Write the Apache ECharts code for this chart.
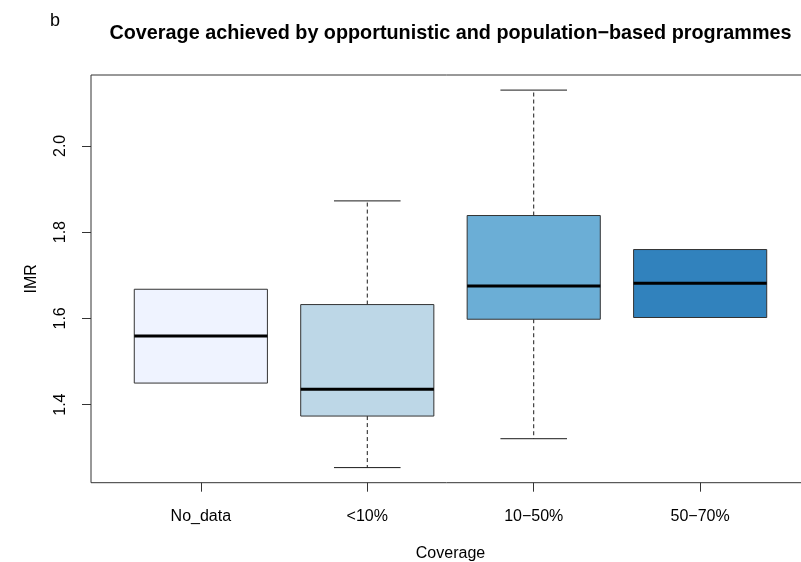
<!DOCTYPE html>
<html>
<head>
<meta charset="utf-8">
<script src="https://cdn.jsdelivr.net/npm/echarts@6/dist/echarts.min.js"></script>
<style>
  html, body { margin: 0; padding: 0; background: #fff; }
  #chart { width: 801px; height: 562px; }
</style>
</head>
<body>
<div id="chart"></div>
<script>
// Coverage groups and their IMR five-number summaries
const categories = ['No_data', '<10%', '10\u221250%', '50\u221270%'];
const whiskerLow = [1.450, 1.254, 1.321, 1.602];
const lowerQuartile = [1.450, 1.3735, 1.598, 1.602];
const medians = [1.559, 1.4355, 1.675, 1.6815];
const upperQuartile = [1.6675, 1.632, 1.8385, 1.7596];
const whiskerHigh = [1.6675, 1.8724, 2.1293, 1.7596];
const boxColors = ['#EFF3FF', '#BDD7E7', '#6BAED6', '#3182BD'];
const yTicks = [1.4, 1.6, 1.8, 2.0];
const xTicks = [1, 2, 3, 4];

const FONT = '"Liberation Sans", Arial, Helvetica, sans-serif';

// data rows: [position, low, q1, median, q3, high]
const rows = categories.map((c, i) => [i + 1, whiskerLow[i], lowerQuartile[i], medians[i], upperQuartile[i], whiskerHigh[i]]);

// R-style axis padding: data range extended by 4% on each side
const allVals = whiskerLow.concat(whiskerHigh);
const yMinData = Math.min(...allVals), yMaxData = Math.max(...allVals);
const yPad = (yMaxData - yMinData) * 0.04;
const xPad = (4.5 - 0.5) * 0.04;

const chart = echarts.init(document.getElementById('chart'), null, { renderer: 'canvas' });

function renderBox(params, api) {
  const x = api.value(0);
  const lo = api.value(1), q1 = api.value(2), med = api.value(3), q3 = api.value(4), hi = api.value(5);
  const halfBox = 0.4, halfCap = 0.2;
  const pLeftQ3 = api.coord([x - halfBox, q3]);
  const pRightQ1 = api.coord([x + halfBox, q1]);
  const pMedL = api.coord([x - halfBox, med]);
  const pMedR = api.coord([x + halfBox, med]);
  const pLo = api.coord([x, lo]);
  const pHi = api.coord([x, hi]);
  const pQ1 = api.coord([x, q1]);
  const pQ3 = api.coord([x, q3]);
  const capLoL = api.coord([x - halfCap, lo]);
  const capLoR = api.coord([x + halfCap, lo]);
  const capHiL = api.coord([x - halfCap, hi]);
  const capHiR = api.coord([x + halfCap, hi]);
  const children = [];
  const dashStyle = { stroke: '#1a1a1a', lineWidth: 1, lineDash: [4, 3] };
  const capStyle = { stroke: '#1a1a1a', lineWidth: 1 };
  if (hi > q3) {
    children.push({ type: 'line', shape: { x1: pQ3[0], y1: pQ3[1], x2: pHi[0], y2: pHi[1] }, style: dashStyle });
    children.push({ type: 'line', shape: { x1: capHiL[0], y1: capHiL[1], x2: capHiR[0], y2: capHiR[1] }, style: capStyle });
  }
  if (lo < q1) {
    children.push({ type: 'line', shape: { x1: pQ1[0], y1: pQ1[1], x2: pLo[0], y2: pLo[1] }, style: dashStyle });
    children.push({ type: 'line', shape: { x1: capLoL[0], y1: capLoL[1], x2: capLoR[0], y2: capLoR[1] }, style: capStyle });
  }
  children.push({
    type: 'rect',
    shape: { x: pLeftQ3[0], y: pLeftQ3[1], width: pRightQ1[0] - pLeftQ3[0], height: pRightQ1[1] - pLeftQ3[1] },
    style: { fill: boxColors[params.dataIndex], stroke: '#333333', lineWidth: 1 }
  });
  children.push({
    type: 'line',
    shape: { x1: pMedL[0], y1: pMedL[1], x2: pMedR[0], y2: pMedR[1] },
    style: { stroke: '#000000', lineWidth: 3 }
  });
  return { type: 'group', children: children };
}

chart.setOption({
  animation: false,
  backgroundColor: '#ffffff',
  grid: {
    left: 91, top: 75, width: 719, height: 407.7,
    outerBoundsMode: 'none', containLabel: false,
    show: true, borderColor: '#333333', borderWidth: 1, backgroundColor: 'transparent'
  },
  graphic: [
    { type: 'text', x: 50, y: 12, style: { text: 'b', font: '18px ' + FONT, fill: '#000' } },
    {
      type: 'text', x: 450.5, y: 34,
      style: {
        text: 'Coverage achieved by opportunistic and population\u2212based programmes',
        font: 'bold 19.8px ' + FONT, fill: '#000', textAlign: 'center', textVerticalAlign: 'middle'
      }
    }
  ],
  xAxis: {
    type: 'value',
    min: 0.5 - xPad, max: 4.5 + xPad,
    name: 'Coverage', nameLocation: 'middle', nameGap: 63,
    nameTextStyle: { fontFamily: FONT, fontSize: 16, color: '#000' },
    splitLine: { show: false },
    axisLine: { show: false },
    axisTick: { show: true, length: 9, inside: false, customValues: xTicks, lineStyle: { color: '#333' } },
    axisLabel: {
      customValues: xTicks, margin: 26,
      fontFamily: FONT, fontSize: 16, color: '#000',
      formatter: v => categories[Math.round(v) - 1] || ''
    }
  },
  yAxis: {
    type: 'value',
    min: yMinData - yPad, max: yMaxData + yPad,
    name: 'IMR', nameLocation: 'middle', nameGap: 51, nameRotate: 90,
    nameTextStyle: { fontFamily: FONT, fontSize: 16, color: '#000' },
    splitLine: { show: false },
    axisLine: { show: false },
    axisTick: { show: true, length: 9, customValues: yTicks, lineStyle: { color: '#333' } },
    axisLabel: {
      customValues: yTicks, rotate: 90, margin: 22,
      fontFamily: FONT, fontSize: 16, color: '#000',
      formatter: v => v.toFixed(1)
    }
  },
  series: [{
    type: 'custom',
    renderItem: renderBox,
    encode: { x: 0, y: [1, 2, 3, 4, 5] },
    data: rows,
    clip: false
  }]
});
</script>
</body>
</html>
